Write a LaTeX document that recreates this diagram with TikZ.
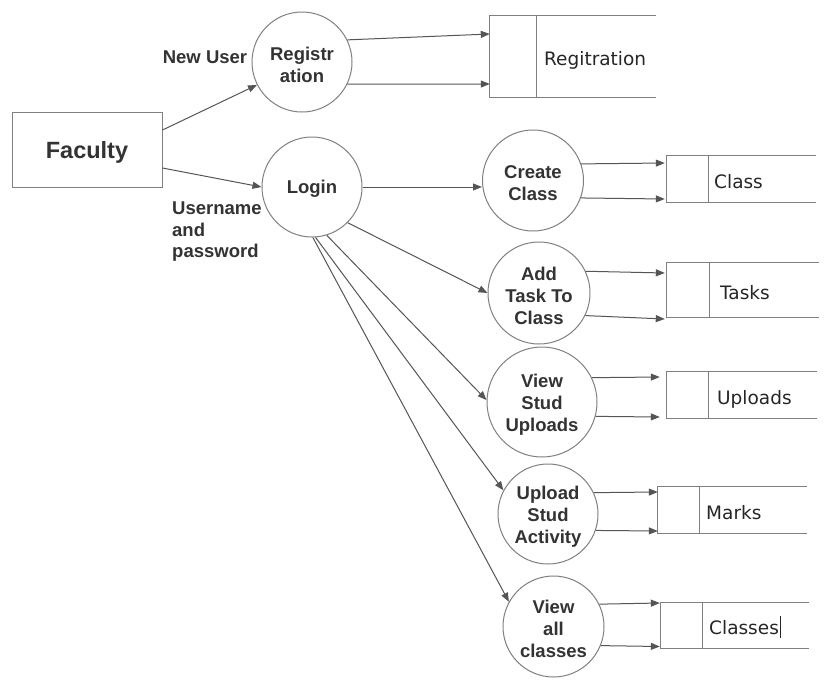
\documentclass[tikz,border=0pt]{standalone}
\usepackage{fontspec}
\setmainfont{Liberation Sans}
\newfontfamily\storefont{DejaVu Sans}
\usetikzlibrary{arrows.meta,calc}
\definecolor{shapegray}{HTML}{808080}
\definecolor{linegray}{HTML}{555555}
\definecolor{txt}{HTML}{333333}
\tikzset{
 procm/.style={circle, draw=shapegray, line width=1pt, inner sep=0pt, text=txt, font=\fontsize{18.5}{22}\selectfont\bfseries},
 proc/.style={procm, execute at begin node={\rule{0pt}{17.5pt}}},
 ptext/.style={align=center, inner sep=0pt, text=txt, font=\fontsize{18.5}{22}\selectfont\bfseries, yshift=-2.5pt},
 ent/.style={rectangle, draw=shapegray, line width=1pt, minimum width=150pt, minimum height=75pt, text=txt, font=\fontsize{23.5}{28}\selectfont\bfseries, execute at begin node={\rule{0pt}{22.5pt}}},
 flow/.style={draw=linegray, line width=1pt, -{Triangle[length=9pt,width=7pt]}},
 lbl/.style={text=txt, inner sep=0pt, font=\fontsize{18.5}{21.5}\selectfont\bfseries},
 storebox/.style={rectangle, draw=none, inner sep=0pt},
 storeline/.style={draw=shapegray, line width=1pt},
 storetext/.style={inner sep=0pt, text height=13.5pt, text depth=0pt, text=black!85, font=\storefont\fontsize{18.5}{22}\selectfont},
}
% name, left, top, right, bottom, divider x, text x, text
\newcommand\datastore[8]{%
 \node[storebox, minimum width={(#4-#2)*1pt}, minimum height={(#5-#3)*1pt}] (#1) at ({(#2+#4)/2},{(#3+#5)/2}) {};
 \draw[storeline] (#1.north east) -- (#1.north west) -- (#1.south west) -- (#1.south east);
 \draw[storeline] (#6,#3) -- (#6,#5);
 \node[storetext, anchor=west] (#1-label) at (#7,{(#3+#5)/2+2.7}) {#8};
}
\begin{document}
\begin{tikzpicture}[x=1pt,y=-1pt]
\useasboundingbox (0,0) rectangle (833,689);
\fill[white] (0,0) rectangle (833,689);

% entity
\node[ent] (fac) at (87,150) {Faculty};

% processes
\node[procm, minimum size=100pt, label={[ptext]center:{Registr\\ation}}] (reg) at (302,62) {};
\node[proc, minimum size=100pt] (login) at (312,187) {Login};
\node[procm, minimum size=101pt, label={[ptext]center:{Create\\Class}}] (create) at (533,180.5) {};
\node[procm, minimum size=102pt, label={[ptext]center:{Add\\Task To\\Class}}] (addtask) at (539,293) {};
\node[procm, minimum size=110pt, label={[ptext]center:{View\\Stud\\Uploads}}] (viewstud) at (542,402) {};
\node[procm, minimum size=100pt, label={[ptext]center:{Upload\\Stud\\Activity}}] (upload) at (548,514) {};
\node[procm, minimum size=101pt, label={[ptext]center:{View\\all\\classes}}] (viewall) at (553.5,626.5) {};

% data stores
\datastore{sreg}{490}{16}{656}{97}{536}{544}{Regitration}
\datastore{sclass}{667}{156}{816}{202}{708}{714}{Class}
\datastore{stasks}{667}{263}{819}{317}{709}{720}{Tasks}
\datastore{suploads}{667}{372}{817}{418}{708}{717}{Uploads}
\datastore{smarks}{658}{487}{807}{533}{699}{706}{Marks}
\datastore{sclasses}{661}{603}{809}{648}{702}{709}{Classes\hspace{1pt}\rule[-3.5pt]{1.2pt}{22pt}}

% labels
\node[lbl] (newuser) at (205,57) {New User};
\node[lbl, anchor=west, align=left] (userpass) at (172,232) {Username\\and\\password};

% flows from faculty
\draw[flow] ($(fac.east)+(0,-20)$) -- (reg.207);
\draw[flow] ($(fac.east)+(0,18)$) -- (login.west);

% registration to store
\draw[flow] (reg.26) -- (sreg.west |- 0,34);
\draw[flow] (reg.-26) -- (sreg.west |- 0,84);

% login to processes
\draw[flow] (login.east) -- (create.west |- login.east);
\draw[flow] (login.-45) -- (addtask.west);
\draw[flow] (login.-73) -- (viewstud.178);
\draw[flow] (login.-86.5) -- (upload.152);
\draw[flow] (login.-89) -- (viewall.151);

% processes to stores
\draw[flow] (create.19.6) -- ($(sclass.west |- 0,163)+(-2,0)$);
\draw[flow] (create.-20) -- ($(sclass.west |- 0,199)+(-2,0)$);
\draw[flow] (addtask.25.6) -- ($(stasks.west |- 0,273)+(-2,0)$);
\draw[flow] (addtask.-26.6) -- ($(stasks.west |- 0,319)+(-2,0)$);
\draw[flow] (viewstud.26) -- ($(suploads.west |- 0,377)+(-7,0)$);
\draw[flow] (viewstud.-15) -- ($(suploads.west |- 0,417)+(-7,0)$);
\draw[flow] (upload.25) -- (smarks.west |- 0,492);
\draw[flow] (upload.-19) -- (smarks.west |- 0,531);
\draw[flow] (viewall.26.5) -- ($(sclasses.west |- 0,603)+(-1,0)$);
\draw[flow] (viewall.-22.6) -- ($(sclasses.west |- 0,646.5)+(-1,0)$);
\end{tikzpicture}
\end{document}
